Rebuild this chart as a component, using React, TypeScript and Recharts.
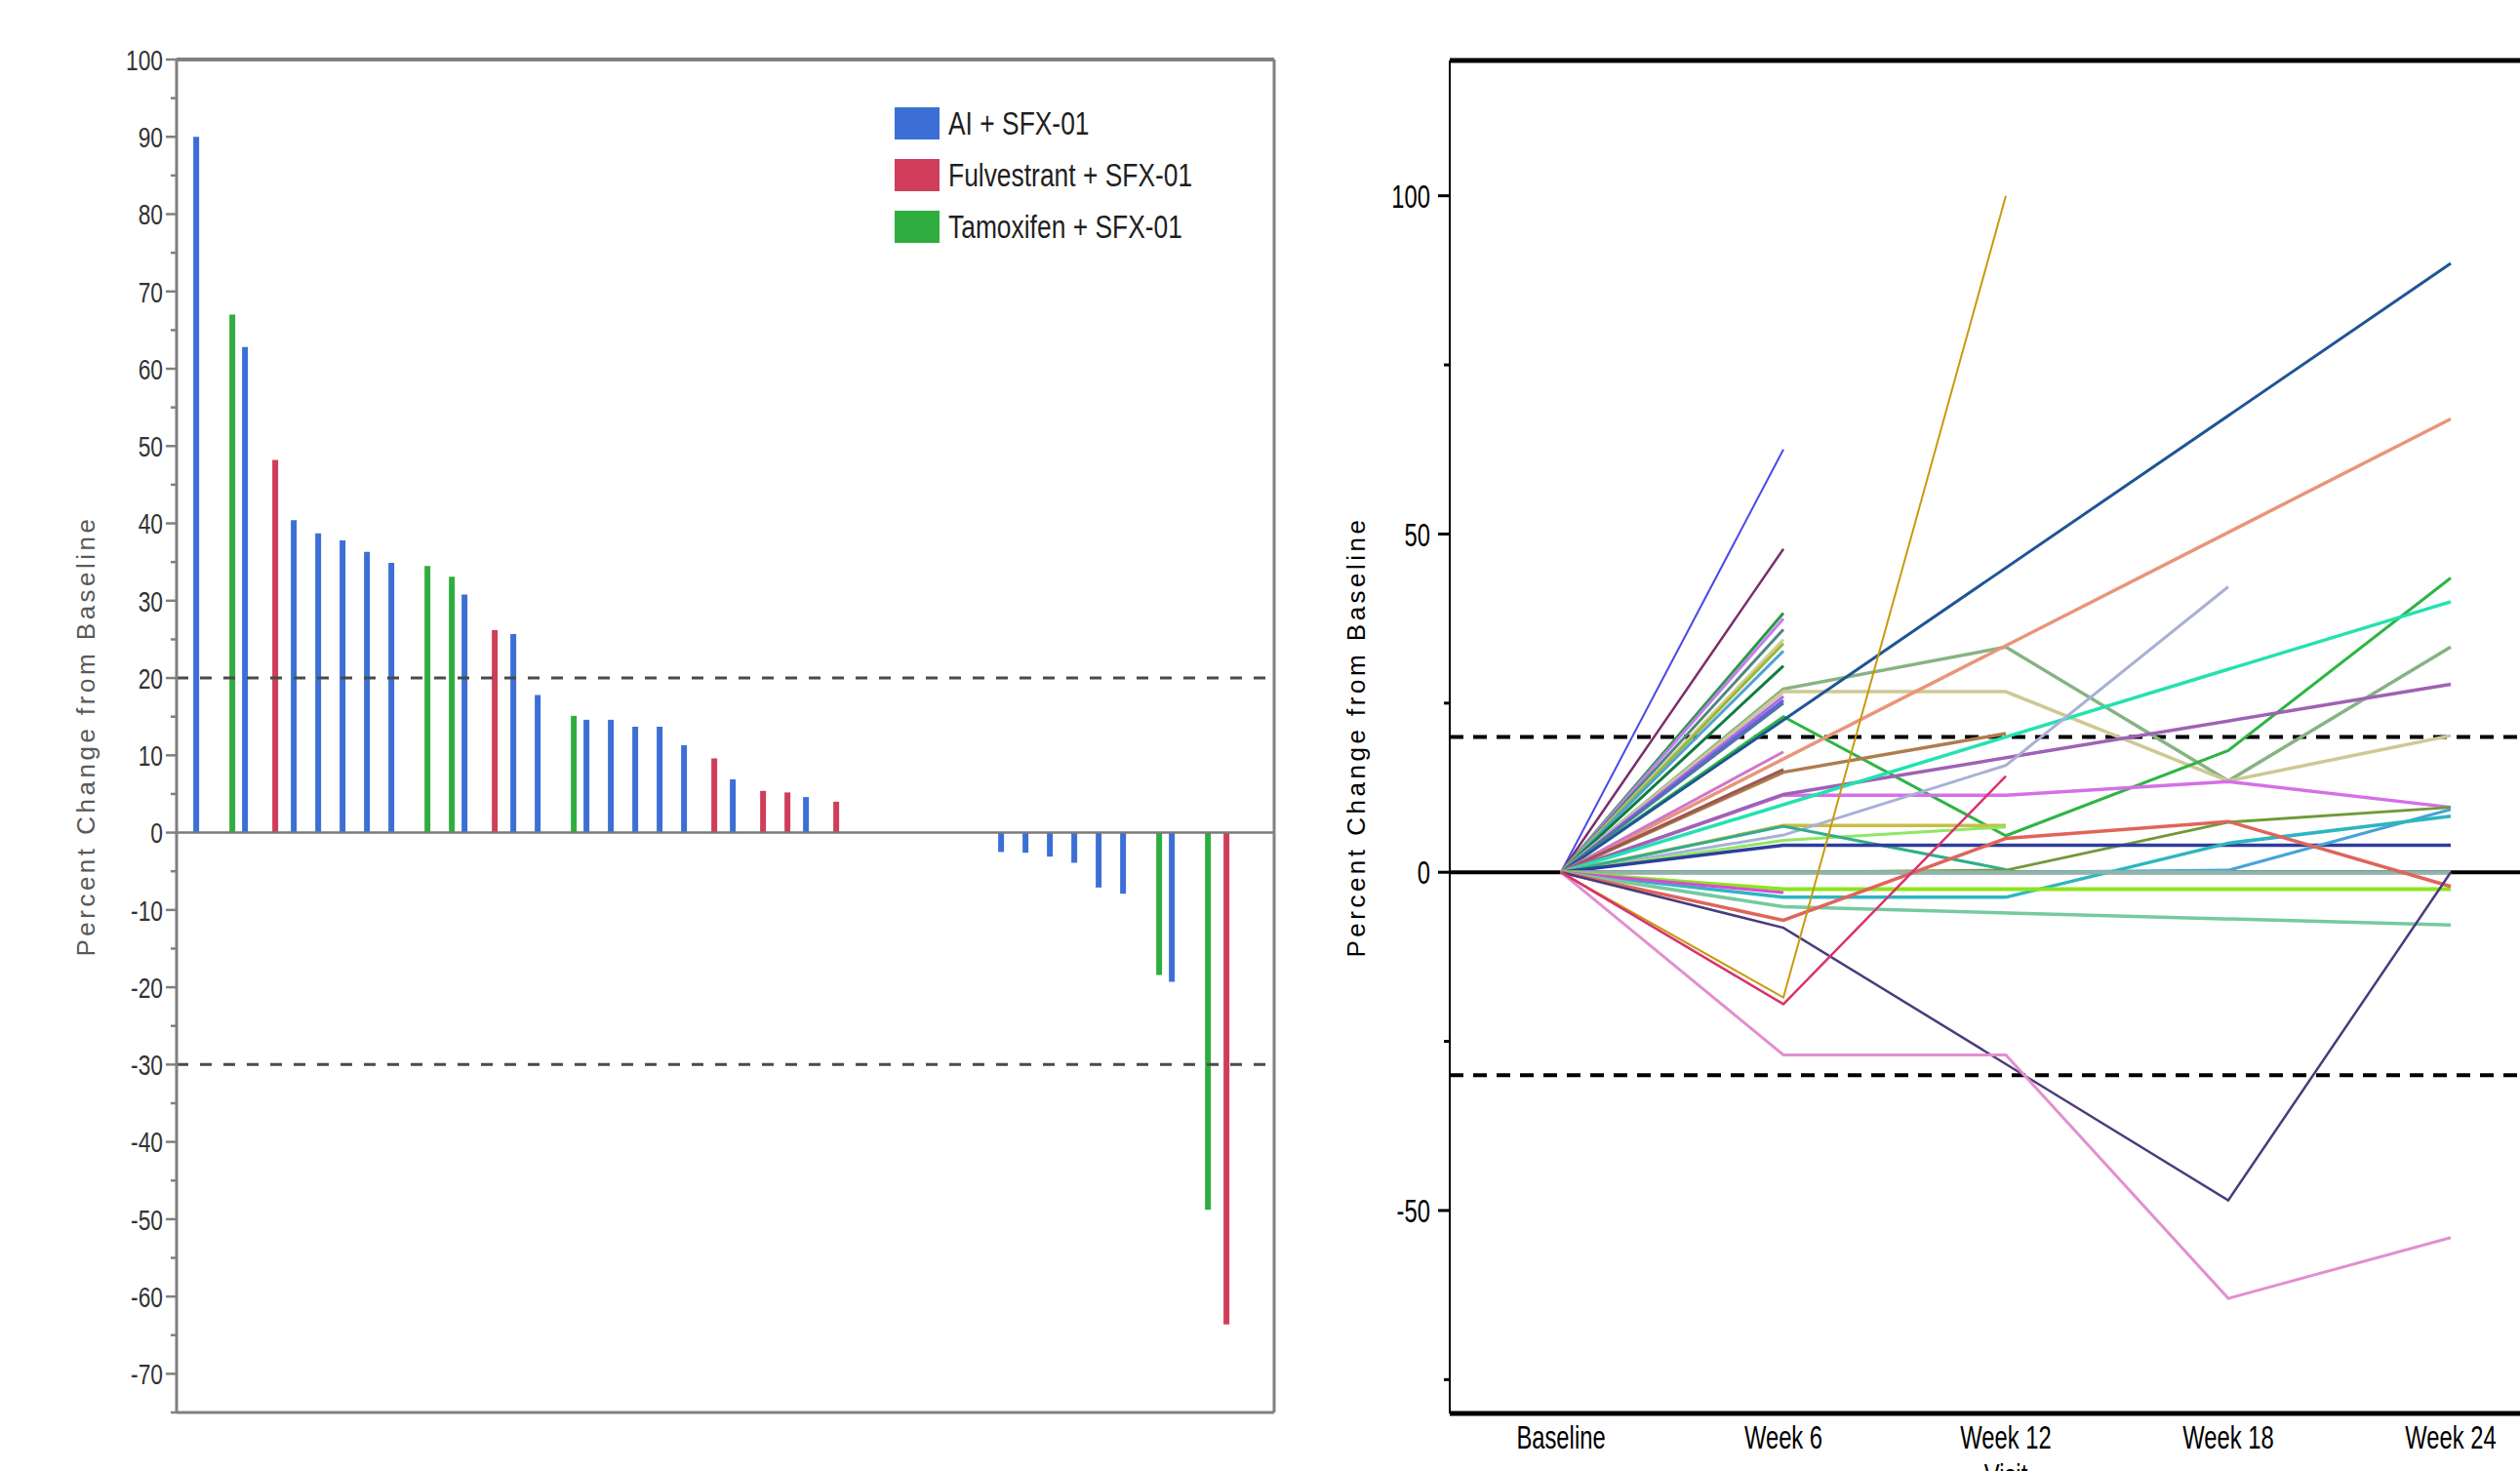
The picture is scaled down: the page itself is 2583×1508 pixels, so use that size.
import React from 'react';
import {
  BarChart, Bar, XAxis, YAxis, ReferenceLine, Legend,
  LineChart, Line,
} from 'recharts';

// ---- waterfall (left) ----
// one entry per patient slot, A = AI, F = Fulvestrant, T = Tamoxifen, '' = empty slot
const barGroups = [
  'A', 'T', 'A', 'F', 'A', 'A', 'A', 'A', 'A', 'T', 'T', 'A', 'F', 'A', 'A',
  'T', 'A', 'A', 'A', 'A', 'A', 'F', 'A', 'F', 'F', 'A', 'F',
  '', '', '', '', '', '',
  'A', 'A', 'A', 'A', 'A', 'A', 'T', 'A', 'T', 'F', '',
];
const barValues: (number | null)[] = [
  90, 67, 62.8, 48.2, 40.4, 38.7, 37.8, 36.3, 34.9, 34.5, 33.1, 30.8, 26.2, 25.7, 17.8,
  15.1, 14.6, 14.6, 13.7, 13.7, 11.3, 9.6, 6.9, 5.4, 5.2, 4.6, 4.0,
  null, null, null, null, null, null,
  -2.5, -2.6, -3.1, -3.9, -7.1, -7.9, -18.4, -19.3, -48.8, -63.6, null,
];
const groupLabels = ['AI + SFX-01', 'Fulvestrant + SFX-01', 'Tamoxifen + SFX-01'];
const leftTicks = [
  -75, -70, -65, -60, -55, -50, -45, -40, -35, -30, -25, -20, -15, -10, -5, 0,
  5, 10, 15, 20, 25, 30, 35, 40, 45, 50, 55, 60, 65, 70, 75, 80, 85, 90, 95, 100,
];

// ---- spaghetti plot (right) ----
const visits = ['Baseline', 'Week 6', 'Week 12', 'Week 18', 'Week 24'];
const rightTicks = [-75, -50, -25, 0, 25, 50, 75, 100];
const lineSeries: (number | null)[][] = [
  [0, 62.5],
  [0, 47.8],
  [0, 38.3],
  [0, 37.5],
  [0, 35.9],
  [0, 34.4],
  [0, 33.8],
  [0, 32.7],
  [0, 30.5],
  [0, 27.1, 33.3, 13.5, 33.3],
  [0, 26.7, 26.7, 13.5, 20.2],
  [0, 26.0],
  [0, 25.4],
  [0, 25.0],
  [0, 23.0, 5.4, 18.0, 43.5],
  [0, null, null, null, 90],
  [0, null, null, null, 67],
  [0, 17.8],
  [0, 14.8, 20.5],
  [0, 15.2],
  [0, 11.4, 11.4, 13.4, 9.6],
  [0, 11.5, null, null, 27.8],
  [0, null, null, null, 40],
  [0, 6.9, 6.9],
  [0, 5.5, 15.8, 42.2],
  [0, 4.7, 6.7],
  [0, 6.8, 0.4],
  [0, 0, 0.3, 7.4, 9.6],
  [0, 4.0, 4.0, 4.0, 4.0],
  [0, 0, 0, 0.3, 9.3],
  [0, -3.7, -3.7, 4.3, 8.3],
  [0, 0, 0, 0, 0],
  [0, -2.5, -2.5, -2.5, -2.5],
  [0, -3.0],
  [0, -5.1, null, null, -7.8],
  [0, -7.1, 5.0, 7.5, -2.1],
  [0, -8.2, null, -48.5, 0],
  [0, -27, -27, -63, -54],
  [0, -18.5, 100],
  [0, -19.5, 14.2],
];
const lineColors = [
  '#4a4ae8', '#7a2e6a', '#2a9a44', '#c47cf0', '#4f8682', '#cbd08e', '#9db53a', '#4ea4d2',
  '#107c44', '#86b382', '#cfc895', '#a968f2', '#6b62d0', '#5073b0', '#2db543', '#1e5594',
  '#e8957a', '#d077c8', '#ae7c4e', '#9c5850', '#d66fe8', '#9e62b4', '#22e2b0', '#c9bd44',
  '#a8b0d6', '#8fe763', '#33ad8c', '#6f9a38', '#2e3e9c', '#47a2d8', '#2cb6bf', '#8db5ab',
  '#8ee41e', '#d84ad8', '#77c9a0', '#e0645a', '#4b3b7c', '#e28fcf', '#c89a0c', '#d8326f',
];
const lineWidths = [
  2, 2.5, 3, 3, 3, 3, 3, 3, 3, 3.5, 3.5, 3, 3, 3, 3, 3,
  3.5, 3, 3.5, 3, 3.5, 3.5, 3.5, 3.5, 3, 3, 3, 3, 3.5, 3, 3.5, 4,
  4, 3, 3.5, 3.5, 2.5, 3, 2, 2.5,
];

const BLUE = '#3c6fd6';
const RED = '#d03d5a';
const GREEN = '#2fae3f';
const SANS = "'Liberation Sans', Arial, sans-serif";

const barData = barValues.map((v, i) => ({
  id: i,
  ai: barGroups[i] === 'A' ? v : null,
  ful: barGroups[i] === 'F' ? v : null,
  tam: barGroups[i] === 'T' ? v : null,
}));

const lineData = visits.map((visit, i) => {
  const row: Record<string, string | number | null> = { visit };
  lineSeries.forEach((s, j) => {
    row[`p${j}`] = i < s.length ? s[i] : null;
  });
  return row;
});

const LeftTick = ({ x, y, payload }: any) => {
  const major = payload.value % 10 === 0;
  return (
    <g>
      <line x1={x - (major ? 11 : 6)} x2={x} y1={y} y2={y} stroke="#808080" strokeWidth={2.5} />
      {major && (
        <text
          transform={`translate(${x - 14},${y}) scale(0.76,1)`}
          textAnchor="end" dy="0.36em" fontSize={30} fontFamily={SANS} fill="#333"
        >
          {payload.value}
        </text>
      )}
    </g>
  );
};

const RightYTick = ({ x, y, payload }: any) => {
  const major = payload.value % 50 === 0;
  return (
    <g>
      <line x1={x - (major ? 12 : 6)} x2={x} y1={y} y2={y} stroke="#000" strokeWidth={3} />
      {major && (
        <text
          transform={`translate(${x - 20},${y}) scale(0.7,1)`}
          textAnchor="end" dy="0.36em" fontSize={34} fontFamily={SANS} fill="#000"
        >
          {payload.value}
        </text>
      )}
    </g>
  );
};

const VisitTick = ({ x, y, payload }: any) => (
  <text
    transform={`translate(${x},${y + 36}) scale(0.7,1)`}
    textAnchor="middle" fontSize={34} fontFamily={SANS} fill="#000"
  >
    {payload.value}
  </text>
);

const YTitle = ({ viewBox, dx, color }: any) => {
  const vb = viewBox || { x: 0, y: 0, height: 1508 };
  const cx = vb.x + dx;
  const cy = vb.y + vb.height / 2;
  return (
    <text
      transform={`translate(${cx},${cy}) rotate(-90)`}
      textAnchor="middle" dy="0.36em" fontSize={26} letterSpacing={3.5}
      fontFamily={SANS} fill={color}
    >
      Percent Change from Baseline
    </text>
  );
};

// the reference photo cuts this title off at the bottom edge of the page
const VisitTitle = ({ viewBox }: any) => {
  const vb = viewBox || { x: 146, y: 1449, width: 1140 };
  return (
    <text
      transform={`translate(${vb.x + vb.width / 2},${vb.y + 75}) scale(0.7,1)`}
      textAnchor="middle" fontSize={34} fontFamily={SANS} fill="#000"
    >
      Visit
    </text>
  );
};

const LegendBox = ({ payload }: any) => (
  <div>
    {(payload || []).map((e: any) => (
      <div key={e.value} style={{ display: 'flex', alignItems: 'center', height: 53 }}>
        <div style={{ width: 46, height: 33, background: e.color }} />
        <span
          style={{
            marginLeft: 9, fontSize: 33, fontFamily: SANS, color: '#1f1f1f', lineHeight: 1,
            display: 'inline-block', transform: 'scaleX(0.8)', transformOrigin: 'left center',
            whiteSpace: 'nowrap',
          }}
        >
          {e.value}
        </span>
      </div>
    ))}
  </div>
);

const WaterfallChart = () => (
  <BarChart
    width={1340} height={1508} data={barData}
    margin={{ top: 60, right: 33, bottom: 59, left: 81 }}
    barGap={0} barCategoryGap="12.5%"
  >
    <XAxis
      dataKey="id" tick={false} tickLine={false} height={1}
      padding={{ left: 14, right: 11 }}
      axisLine={{ stroke: '#808080', strokeWidth: 3 }}
    />
    <XAxis
      xAxisId="top" orientation="top" dataKey="id" tick={false} tickLine={false} height={1}
      axisLine={{ stroke: '#808080', strokeWidth: 4 }}
    />
    <YAxis
      type="number" domain={[-75, 100]} ticks={leftTicks} interval={0} width={100}
      tickSize={0} tickMargin={0} tickLine={false}
      axisLine={{ stroke: '#808080', strokeWidth: 3 }}
      tick={<LeftTick />}
      label={<YTitle dx={7} color="#595959" />}
    />
    <YAxis
      yAxisId="right" orientation="right" type="number" domain={[-75, 100]} width={1}
      tick={false} tickLine={false} axisLine={{ stroke: '#808080', strokeWidth: 3 }}
    />
    <ReferenceLine y={0} stroke="#7a7a7a" strokeWidth={2.5} />
    <ReferenceLine y={20} stroke="#4a4a4a" strokeWidth={3} strokeDasharray="12 12" />
    <ReferenceLine y={-30} stroke="#4a4a4a" strokeWidth={3} strokeDasharray="12 12" />
    <Bar dataKey="ai" name={groupLabels[0]} fill={BLUE} isAnimationActive={false} />
    <Bar dataKey="ful" name={groupLabels[1]} fill={RED} isAnimationActive={false} />
    <Bar dataKey="tam" name={groupLabels[2]} fill={GREEN} isAnimationActive={false} />
    <Legend
      layout="vertical" align="center" verticalAlign="middle"
      wrapperStyle={{ left: 917, top: 100, width: 'auto' }}
      content={<LegendBox />}
    />
  </BarChart>
);

const SpaghettiChart = () => (
  <LineChart
    width={1320} height={1508} data={lineData}
    margin={{ top: 62, right: 34, bottom: 29, left: 30 }}
  >
    <XAxis
      dataKey="visit" interval={0} height={30} padding={{ left: 114, right: 114 }}
      tickSize={0} tickMargin={0} tickLine={false}
      axisLine={{ stroke: '#000', strokeWidth: 5 }}
      tick={<VisitTick />}
      label={<VisitTitle />}
    />
    <YAxis
      type="number" domain={[-80, 120]} ticks={rightTicks} interval={0} width={116}
      tickSize={0} tickMargin={0} tickLine={false}
      axisLine={{ stroke: '#000', strokeWidth: 2 }}
      tick={<RightYTick />}
      label={<YTitle dx={20} color="#000" />}
    />
    <ReferenceLine y={120} stroke="#000" strokeWidth={5} />
    <ReferenceLine y={0} stroke="#000" strokeWidth={4} />
    <ReferenceLine y={20} stroke="#000" strokeWidth={4} strokeDasharray="14 10" />
    <ReferenceLine y={-30} stroke="#000" strokeWidth={4} strokeDasharray="14 10" />
    {lineSeries.map((_, j) => (
      <Line
        key={j}
        dataKey={`p${j}`}
        stroke={lineColors[j]}
        strokeWidth={lineWidths[j]}
        dot={false}
        activeDot={false}
        connectNulls
        isAnimationActive={false}
      />
    ))}
  </LineChart>
);

export default function App() {
  return (
    <div
      style={{
        position: 'fixed', left: 0, top: 0, width: 2583, height: 1508,
        overflow: 'hidden', background: '#fff',
      }}
    >
      <div style={{ position: 'absolute', left: 0, top: 0 }}>
        <WaterfallChart />
      </div>
      <div style={{ position: 'absolute', left: 1340, top: 0 }}>
        <SpaghettiChart />
      </div>
    </div>
  );
}
